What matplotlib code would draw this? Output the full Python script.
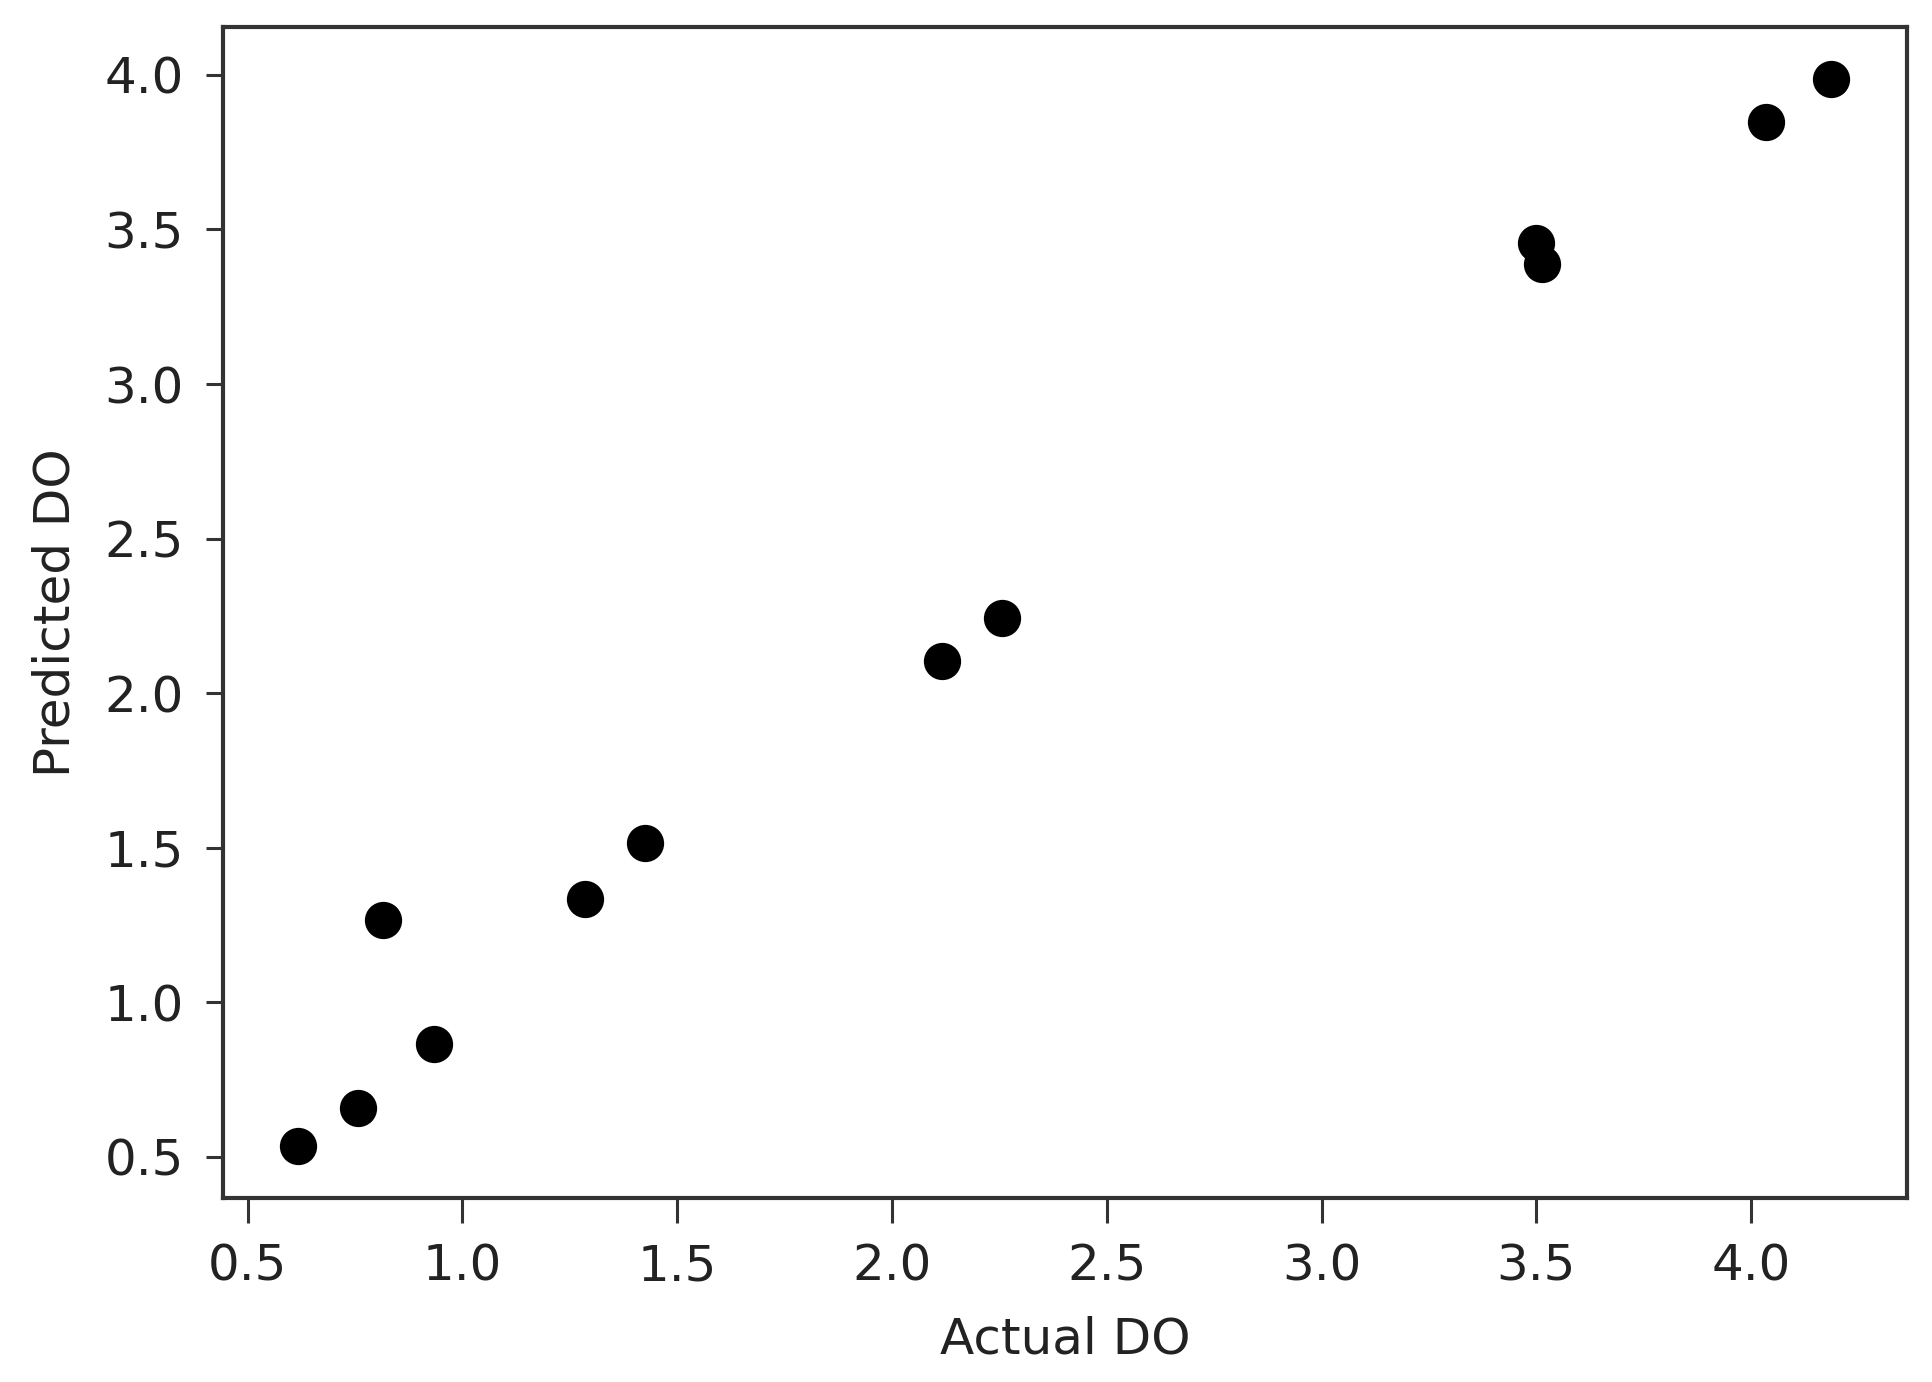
import matplotlib
matplotlib.use('Agg')
import matplotlib.pyplot as plt

# actual vs predicted dissolved oxygen
actual_do = [0.618, 0.758, 0.816, 0.934, 1.286, 1.425, 2.116, 2.256, 3.498, 3.513, 4.034, 4.186]
predicted_do = [0.536, 0.658, 1.267, 0.866, 1.335, 1.515, 2.105, 2.243, 3.457, 3.387, 3.847, 3.986]

x_ticks = [0.5, 1.0, 1.5, 2.0, 2.5, 3.0, 3.5, 4.0]
y_ticks = [0.5, 1.0, 1.5, 2.0, 2.5, 3.0, 3.5, 4.0]

font = 'DejaVu Sans'
fsize = 36

fig = plt.figure(figsize=(19.33, 13.82), dpi=100)
ax = fig.add_axes([0.1152, 0.1331, 0.9866 - 0.1152, 0.9807 - 0.1331])

ax.scatter(actual_do, predicted_do, s=720, c='black', linewidths=0)

ax.set_xlim(0.442, 4.363)
ax.set_ylim(0.367, 4.156)
ax.set_xticks(x_ticks)
ax.set_yticks(y_ticks)
ax.set_xticklabels([f'{v:.1f}' for v in x_ticks], family=font, fontsize=fsize, color='#222222')
ax.set_yticklabels([f'{v:.1f}' for v in y_ticks], family=font, fontsize=fsize, color='#222222')

for s in ax.spines.values():
    s.set_linewidth(3.0)
    s.set_color('#333333')
ax.tick_params(axis='x', length=18, width=2.2, pad=14, color='#333333')
ax.tick_params(axis='y', length=12, width=2.2, pad=16, color='#333333')

ax.set_xlabel('Actual DO', family=font, fontsize=fsize, color='#222222')
ax.set_ylabel('Predicted DO', family=font, fontsize=fsize, color='#222222')
ax.xaxis.set_label_coords(0.5, -0.10)
ax.yaxis.set_label_coords(-0.085, 0.5)

fig.savefig('out.png', dpi=100)
